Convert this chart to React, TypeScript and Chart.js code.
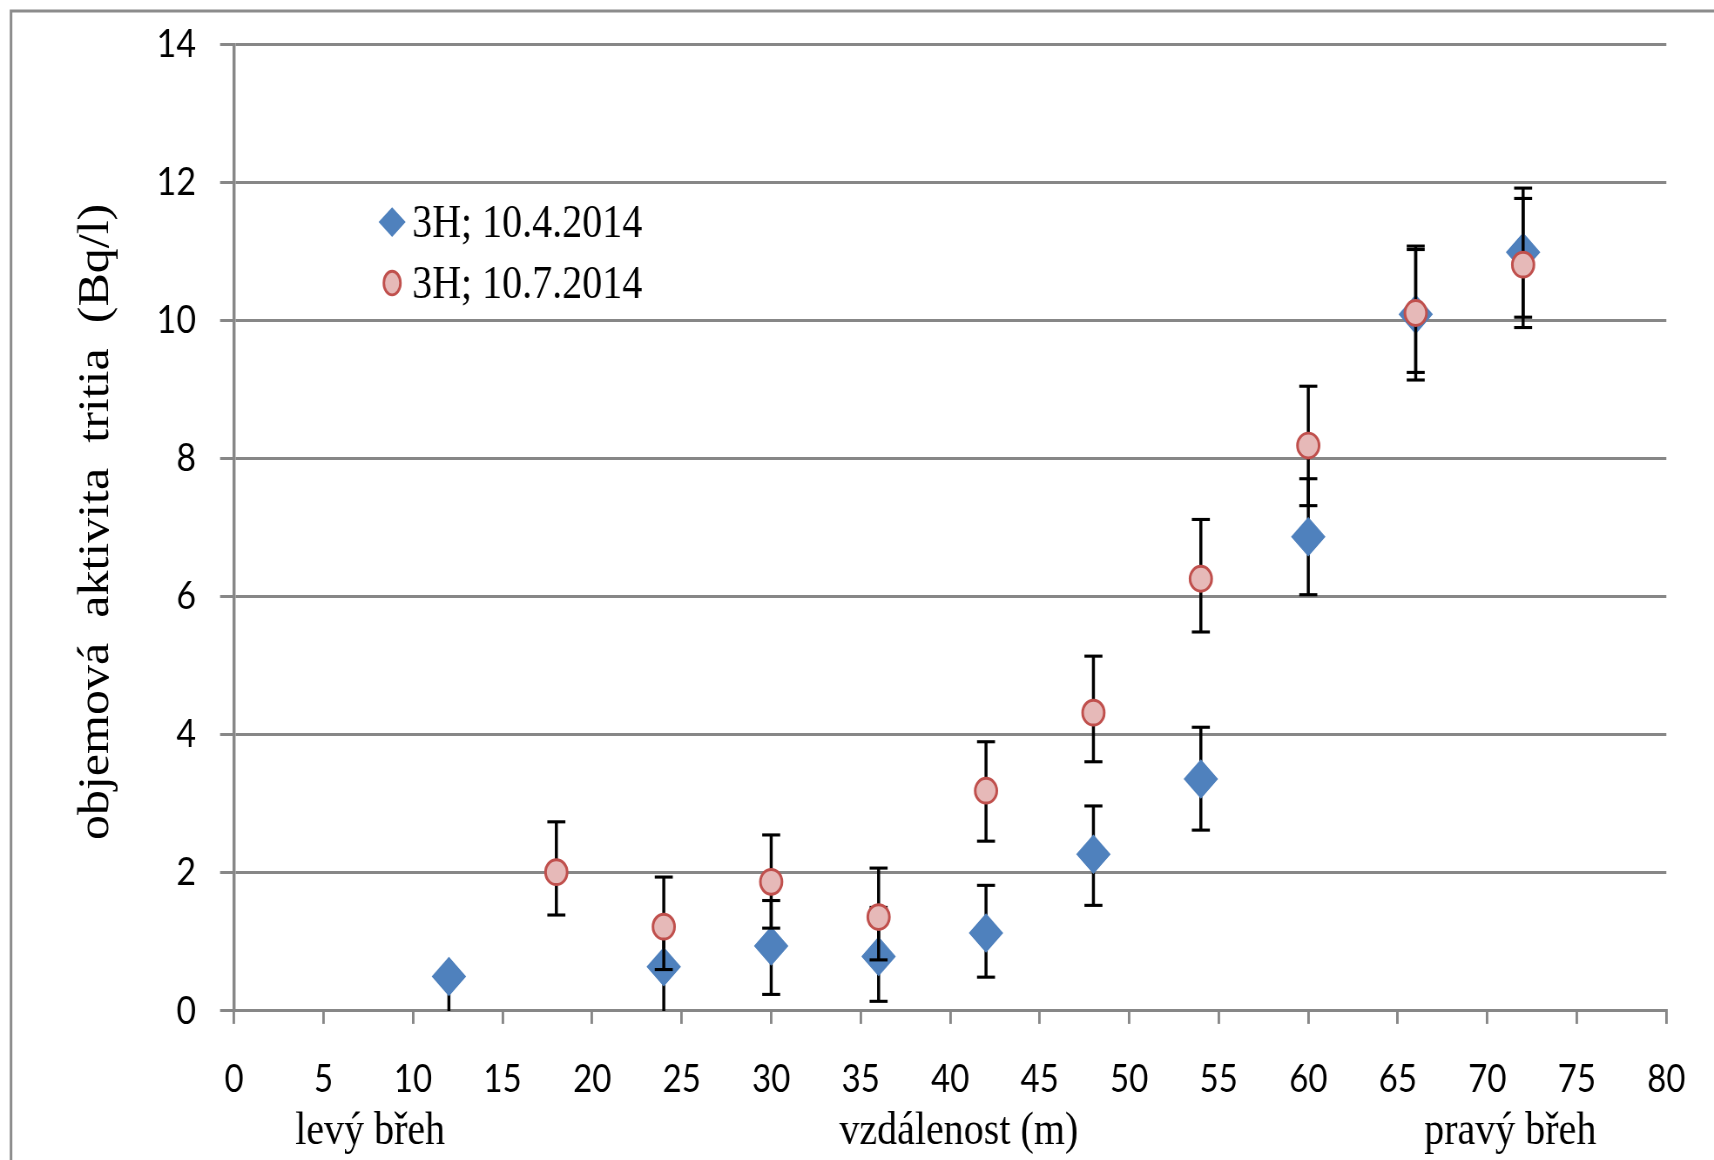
import React, { useEffect, useRef } from "react";
import { Chart, registerables } from "chart.js";

Chart.register(...registerables);

// ---- data ----
const distances = [12, 18, 24, 30, 36, 42, 48, 54, 60, 66, 72];
const aprilValues = [0.5, null, 0.64, 0.94, 0.79, 1.13, 2.27, 3.36, 6.87, 10.09, 10.99];
const aprilErrPlus = [0, null, 0.65, 0.66, 0.71, 0.69, 0.7, 0.75, 0.84, 0.94, 0.93];
const aprilErrMinus = [0.7, null, 0.7, 0.7, 0.65, 0.64, 0.74, 0.74, 0.84, 0.95, 0.94];
const julyValues = [null, 2.01, 1.22, 1.87, 1.36, 3.19, 4.32, 6.26, 8.19, 10.11, 10.81];
const julyErrPlus = [null, 0.73, 0.72, 0.68, 0.71, 0.71, 0.82, 0.86, 0.86, 0.97, 0.96];
const julyErrMinus = [null, 0.62, 0.62, 0.67, 0.62, 0.73, 0.71, 0.77, 0.87, 0.86, 0.91];

const seriesLabels = ["3H; 10.4.2014", "3H; 10.7.2014"];
const yAxisTitle = "objemová  aktivita  tritia  (Bq/l)";
const xAxisTitle = "vzdálenost (m)";
const leftBankLabel = "levý břeh";
const rightBankLabel = "pravý břeh";

// ---- layout / style ----
const W = 1714;
const H = 1010;
const SY = 1160 / H;
const BLUE = "#4F81BD";
const RED = "#C0504D";
const PINK = "#E6B9B8";
const GRID = "#878787";
const SERIF = "'Liberation Serif', 'Times New Roman', serif";
const SANS = "Lato, 'Open Sans', sans-serif";

function build(values: (number | null)[], plus: (number | null)[], minus: (number | null)[]) {
  const out: any[] = [];
  distances.forEach((x, i) => {
    const v = values[i];
    if (v == null) return;
    out.push({ x, y: v, plus: plus[i] ?? 0, minus: minus[i] ?? 0 });
  });
  return out;
}

const framePlugin = {
  id: "frame",
  beforeDraw(chart: any) {
    const ctx = chart.ctx;
    ctx.save();
    ctx.fillStyle = "#ffffff";
    ctx.fillRect(0, 0, chart.width, chart.height);
    ctx.strokeStyle = "#8c8c8c";
    ctx.lineWidth = 2.6;
    ctx.beginPath();
    ctx.moveTo(11, chart.height + 10);
    ctx.lineTo(11, 9.6);
    ctx.lineTo(chart.width + 10, 9.6);
    ctx.stroke();
    ctx.restore();
  },
};

const errorBarPlugin = {
  id: "errorBars",
  beforeDatasetDraw(chart: any, args: any) {
    const ds = chart.data.datasets[args.index];
    const meta = args.meta;
    const yScale = chart.scales.y;
    const ctx = chart.ctx;
    const a = chart.chartArea;
    ctx.save();
    ctx.beginPath();
    ctx.rect(a.left, a.top - 30, a.right - a.left, a.bottom - a.top + 30);
    ctx.clip();
    ctx.fillStyle = "#000000";
    meta.data.forEach((el: any, i: number) => {
      const p = ds.data[i];
      if (!p) return;
      const x = el.x;
      const yTop = yScale.getPixelForValue(p.y + p.plus);
      const yBot = yScale.getPixelForValue(p.y - p.minus);
      ctx.fillRect(x - 1.5, yTop, 3, yBot - yTop);
      ctx.fillRect(x - 9, yTop - 1.3, 18, 2.7);
      ctx.fillRect(x - 9, yBot - 1.3, 18, 2.7);
    });
    ctx.restore();
  },
};

const legendPlugin = {
  id: "insideLegend",
  afterDraw(chart: any) {
    const ctx = chart.ctx;
    const mx = 392;
    const tx = 412;
    const rows = [206.4, 259.5];
    ctx.save();
    const cy0 = rows[0] - 13;
    ctx.fillStyle = BLUE;
    ctx.beginPath();
    ctx.moveTo(mx, cy0 - 13);
    ctx.lineTo(mx + 13.5, cy0);
    ctx.lineTo(mx, cy0 + 13);
    ctx.lineTo(mx - 13.5, cy0);
    ctx.closePath();
    ctx.fill();
    const cy1 = rows[1] - 13;
    ctx.beginPath();
    ctx.ellipse(mx, cy1, 8.3, 10.3, 0, 0, Math.PI * 2);
    ctx.fillStyle = PINK;
    ctx.fill();
    ctx.lineWidth = 2.5;
    ctx.strokeStyle = RED;
    ctx.stroke();
    ctx.fillStyle = "#000";
    ctx.font = `40px ${SERIF}`;
    ctx.textAlign = "left";
    ctx.textBaseline = "alphabetic";
    chart.data.datasets.forEach((ds: any, i: number) => {
      ctx.fillText(ds.label, tx, rows[i]);
    });
    ctx.restore();
  },
};

const extraTextPlugin = {
  id: "extraText",
  afterDraw(chart: any) {
    const ctx = chart.ctx;
    const a = chart.chartArea;
    const xs = chart.scales.x;
    ctx.save();
    ctx.fillStyle = "#000";
    ctx.font = `40px ${SERIF}`;
    ctx.textAlign = "center";
    ctx.textBaseline = "middle";
    const y = xs.bottom - 24.5;
    const w = a.right - a.left;
    ctx.fillText(leftBankLabel, a.left + 0.095 * w, y);
    ctx.fillText(xAxisTitle, a.left + 0.506 * w, y);
    ctx.fillText(rightBankLabel, a.left + 0.891 * w, y);
    // y title
    ctx.translate(96, (a.top + a.bottom) / 2 - 5);
    ctx.rotate(-Math.PI / 2);
    ctx.scale(0.99, 1);
    ctx.font = `44px ${SERIF}`;
    ctx.fillText(yAxisTitle, 0, 0);
    ctx.restore();
  },
};

export default function App() {
  const ref = useRef<HTMLCanvasElement | null>(null);

  useEffect(() => {
    if (!ref.current) return;
    const chart = new Chart(ref.current, {
      type: "scatter",
      data: {
        datasets: [
          {
            label: seriesLabels[0],
            data: build(aprilValues, aprilErrPlus, aprilErrMinus),
            pointStyle: "rectRot",
            pointRadius: 16.5,
            pointHoverRadius: 16.5,
            backgroundColor: BLUE,
            borderColor: BLUE,
            borderWidth: 1,
            order: 2,
          },
          {
            label: seriesLabels[1],
            data: build(julyValues, julyErrPlus, julyErrMinus),
            pointStyle: "circle",
            pointRadius: 10.8,
            pointHoverRadius: 10.8,
            backgroundColor: PINK,
            borderColor: RED,
            borderWidth: 2.6,
            order: 1,
          },
        ],
      },
      options: {
        responsive: false,
        animation: false,
        devicePixelRatio: SY,
        events: [],
        layout: { padding: { left: 0, right: 40, top: 38.7, bottom: 0 } },
        plugins: {
          legend: { display: false },
          tooltip: { enabled: false },
        },
        scales: {
          x: {
            type: "linear",
            min: 0,
            max: 80,
            ticks: {
              stepSize: 5,
              color: "#000",
              font: { family: SANS, size: 33 },
              padding: 29,
              maxRotation: 0,
            },
            grid: {
              drawOnChartArea: false,
              drawTicks: true,
              tickLength: 11.3,
              color: GRID,
              lineWidth: 2.5,
            },
            border: { display: true, color: GRID, width: 2.6 },
            title: { display: false, text: xAxisTitle },
            afterFit: (s: any) => {
              s.height = 129.8;
            },
          },
          y: {
            min: 0,
            max: 14,
            ticks: {
              stepSize: 2,
              color: "#000",
              font: { family: SANS, size: 34 },
              padding: 24,
            },
            grid: {
              color: GRID,
              lineWidth: 2.6,
              tickLength: 14,
              drawTicks: true,
            },
            border: { display: true, color: GRID, width: 3 },
            afterFit: (s: any) => {
              s.width = 234;
              s.paddingTop = 0;
              s.paddingBottom = 0;
            },
          },
        },
      },
      plugins: [framePlugin, errorBarPlugin, legendPlugin, extraTextPlugin],
    } as any);
    return () => chart.destroy();
  }, []);

  return (
    <div
      style={{
        position: "absolute",
        left: 0,
        top: 0,
        width: W,
        height: 1160,
        overflow: "hidden",
        background: "#fff",
      }}
    >
      <div style={{ width: W, height: H, transform: `scaleY(${SY})`, transformOrigin: "0 0" }}>
        <canvas ref={ref} width={W} height={H} style={{ display: "block" }} />
      </div>
    </div>
  );
}
